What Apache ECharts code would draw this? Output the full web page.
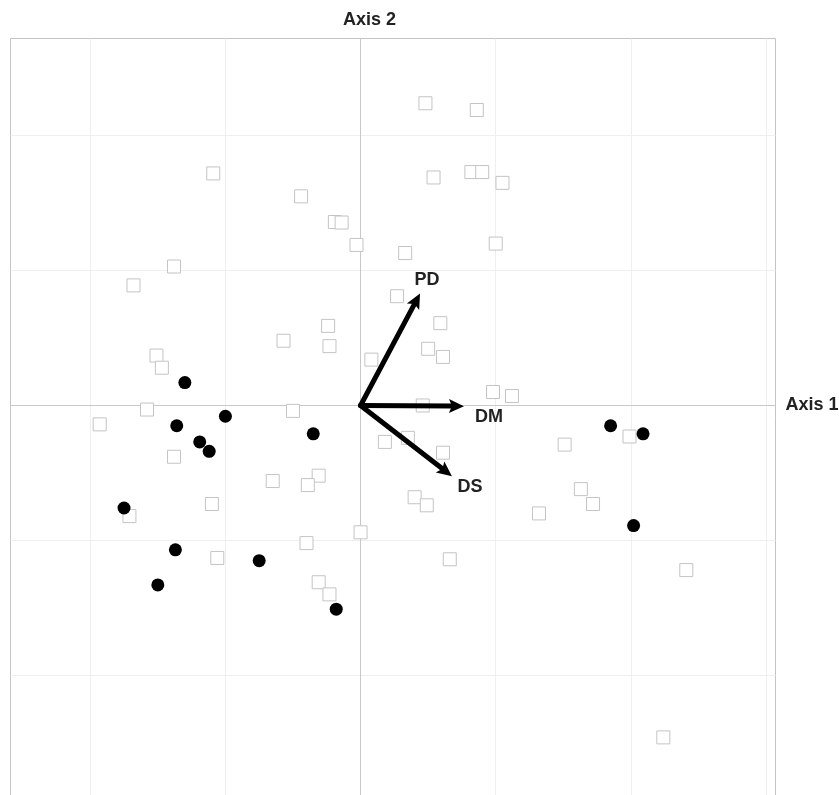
<!DOCTYPE html>
<html>
<head>
<meta charset="utf-8">
<script src="https://cdn.jsdelivr.net/npm/echarts@6/dist/echarts.min.js"></script>
<style>
html,body{margin:0;padding:0;background:#fff;}
#chart{width:839px;height:795px;}
</style>
</head>
<body>
<div id="chart"></div>
<script>
// ---- data ----
const squarePoints = [
  [-1.09,1.72],[-0.44,1.55],[-0.19,1.36],[-0.14,1.356],[-0.03,1.19],[0.33,1.13],
  [-1.38,1.03],[-1.68,0.89],[0.27,0.81],[-0.24,0.59],[-0.57,0.48],[-0.23,0.44],
  [-1.51,0.37],[-1.47,0.28],[0.08,0.34],[-1.58,-0.03],[-0.50,-0.04],[0.48,2.24],
  [0.86,2.19],[0.54,1.69],[0.82,1.73],[0.90,1.73],[1.05,1.65],[1.00,1.20],
  [0.59,0.61],[0.50,0.42],[0.61,0.36],[0.98,0.10],[1.12,0.07],[0.46,0.00],
  [-1.93,-0.14],[-1.38,-0.38],[-0.65,-0.56],[-0.31,-0.52],[-0.39,-0.59],[-1.10,-0.73],
  [-1.71,-0.82],[0.18,-0.27],[0.35,-0.24],[0.40,-0.68],[0.49,-0.74],[0.00,-0.94],
  [-0.40,-1.02],[-1.06,-1.13],[-0.31,-1.31],[-0.23,-1.40],[0.61,-0.35],[1.51,-0.29],
  [1.99,-0.23],[1.63,-0.62],[1.72,-0.73],[1.32,-0.80],[0.66,-1.14],[2.41,-1.22],
  [2.24,-2.46]
];
const circlePoints = [
  [-1.30,0.17],[-1.36,-0.15],[-1.00,-0.08],[-1.19,-0.27],[-1.12,-0.34],[-0.35,-0.21],
  [-1.75,-0.76],[-1.37,-1.07],[-0.75,-1.15],[-1.50,-1.33],[-0.18,-1.51],
  [1.85,-0.15],[2.09,-0.21],[2.02,-0.89]
];
const vectorNames = ['PD','DM','DS'];
const vectorX = [0.44, 0.765, 0.676];
const vectorY = [0.83, -0.005, -0.524];
const gridTicksX = [-2,-1,1,2,3];
const gridTicksY = [-2,-1,1,2];
const axisNames = ['Axis 1','Axis 2'];

// ---- styles ----
const labelOffsets = {PD:[7,-13], DM:[25,11], DS:[18,11]};
const FONT = 'Liberation Sans, Arial, sans-serif';
const textFont = {fontFamily:FONT, fontWeight:'bold', fontSize:18, color:'#222'};
const headLen = 15, headHalf = 7, shaftWidth = 5;

const chart = echarts.init(document.getElementById('chart'), null, {renderer:'canvas'});

const gridMarks = gridTicksX.map(v => ({xAxis:v})).concat(gridTicksY.map(v => ({yAxis:v})));

function renderArrow(params, api) {
  const o = api.coord([0, 0]);
  const t = api.coord([api.value(0), api.value(1)]);
  const dx = t[0] - o[0], dy = t[1] - o[1];
  const len = Math.sqrt(dx*dx + dy*dy);
  const ux = dx/len, uy = dy/len;
  const bx = t[0] - ux*headLen, by = t[1] - uy*headLen;
  const px = -uy, py = ux;
  return {
    type:'group',
    children:[
      {type:'line', shape:{x1:o[0], y1:o[1], x2:bx + ux*3, y2:by + uy*3},
        style:{stroke:'#000', lineWidth:shaftWidth, lineCap:'round'}},
      {type:'polygon', shape:{points:[[t[0],t[1]],[bx+px*headHalf, by+py*headHalf],[bx+ux*3, by+uy*3],[bx-px*headHalf, by-py*headHalf]]},
        style:{fill:'#000'}}
    ]
  };
}

const option = {
  animation:false,
  grid:{left:10.5, top:38.5, width:765, height:765, outerBoundsMode:'none', containLabel:false,
    show:true, borderColor:'#c4c4c4', borderWidth:1, backgroundColor:'transparent'},
  xAxis:{
    type:'value', min:-2.59, max:3.07, z:0,
    axisLine:{onZero:true, lineStyle:{color:'#c8c8c8', width:1}},
    axisTick:{show:false}, axisLabel:{show:false}, splitLine:{show:false},
    name:axisNames[0], nameLocation:'end', nameGap:10,
    nameTextStyle:Object.assign({}, textFont)
  },
  yAxis:{
    type:'value', min:-2.95, max:2.72, z:0,
    axisLine:{onZero:true, lineStyle:{color:'#c8c8c8', width:1}},
    axisTick:{show:false}, axisLabel:{show:false}, splitLine:{show:false},
    name:axisNames[1], nameLocation:'end', nameGap:9,
    nameTextStyle:Object.assign({padding:[0,0,0,18]}, textFont)
  },
  series:[
    {
      type:'scatter', data:[], silent:true, z:0,
      markLine:{silent:true, z:0, symbol:'none', label:{show:false},
        lineStyle:{color:'#efefef', width:1, type:'solid', opacity:1}, data:gridMarks, animation:false}
    },
    {
      type:'scatter', data:squarePoints, symbol:'rect', symbolSize:13, z:2,
      itemStyle:{color:'#ffffff', borderColor:'#c4c4c4', borderWidth:1, opacity:1}
    },
    {
      type:'scatter', data:circlePoints, symbol:'circle', symbolSize:13, z:4,
      itemStyle:{color:'#000000', opacity:1}
    },
    {
      type:'custom', z:5, silent:true,
      data:vectorNames.map((n,i) => [vectorX[i], vectorY[i]]),
      renderItem:renderArrow
    },
    {
      type:'scatter', symbolSize:0, z:6, silent:true,
      itemStyle:{opacity:1},
      data:vectorNames.map((n,i) => ({name:n, value:[vectorX[i],vectorY[i]],
        label:{show:true, position:'inside', formatter:n, offset:labelOffsets[n],
          fontFamily:FONT, fontWeight:'bold', fontSize:18, color:'#222'}}))
    }
  ]
};
chart.setOption(option);
</script>
</body>
</html>
